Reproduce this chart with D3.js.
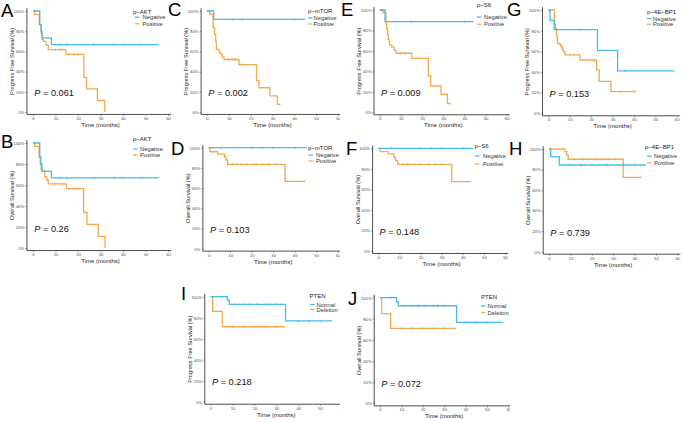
<!DOCTYPE html>
<html><head><meta charset="utf-8">
<script src="https://cdn.jsdelivr.net/npm/d3@7"></script>
<style>body{margin:0;background:#fff}svg{display:block}text{font-family:"Liberation Sans",Arial,sans-serif}</style>
</head><body><svg id="c" width="685" height="422"></svg>
<script>
// ---------------- DATA ----------------
const timeTicks = [0, 10, 20, 30, 40, 50, 60];
const survTicks = [0, 20, 40, 60, 80, 100];
const panelLetters = ["A", "B", "C", "D", "E", "F", "G", "H", "I", "J"];
const markerNames = ["p−AKT", "p−AKT", "p−mTOR", "p−mTOR", "p−S6", "p−S6", "p−4E−BP1", "p−4E−BP1", "PTEN", "PTEN"];
const groupLabelsIHC = ["Negative", "Positive"];
const groupLabelsPTEN = ["Normal", "Deletion"];
const pValues = ["0.061", "0.26", "0.002", "0.103", "0.009", "0.148", "0.153", "0.739", "0.218", "0.072"];
const yTitles = ["Progress Free Survival (%)", "Overall Survival (%)"];
const xTitle = "Time (months)";

// step curves: [time (months), survival (%)]
const negA = [[0,100],[3,86.7],[3.6,80],[4,73.3],[8.2,66.7],[56,66.7]];
const posA = [[0,100],[0.8,96.7],[2.8,86.5],[3.6,78],[4.1,72],[4.6,70],[5.8,66],[6.8,61.7],[14.6,57],[22.6,34.2],[23.8,22.8],[28.6,11.4],[31.9,0]];
const negA_cens = [12, 15, 27, 36, 40, 48];
const posA_cens = [10, 12, 13, 16, 18, 20];

const negB = [[0,100],[3,86.7],[3.5,80],[4,73.3],[8.2,66.7],[56,66.7]];
const posB = [[0,100],[0.8,96.8],[2.7,86.6],[3.2,80],[3.6,75],[4,73],[5.2,68],[6,65],[6.8,61],[14.8,56.5],[22.5,34],[24,22.5],[29,11],[32,0]];
const negB_cens = [12, 15, 27, 36, 40, 48];
const posB_cens = [10, 12, 13, 16, 18, 20];

const negC = [[0,100],[3.1,91.7],[45,91.7]];
const posC = [[0,100],[1.2,97],[2.8,83.5],[3.5,77],[4,70],[4.3,62],[5.5,59],[6.3,57],[6.9,54.5],[7.8,52],[14.6,47],[22.7,31],[23.8,24],[28.8,16],[32.2,7.6],[33.4,7.6]];
const negC_cens = [12, 16, 40];
const posC_cens = [10, 11.5, 13, 16, 33.4];

const negD = [[0,100],[45.6,100]];
const posD = [[0,100],[0.6,96],[4.2,93.7],[7.3,91],[8,88],[8.8,83.5],[35.5,66.7],[44.5,66.7]];
const negD_cens = [6, 20, 25, 30, 40];
const posD_cens = [11, 13, 15, 18, 22, 25, 28, 31, 44.5];

const negE = [[0,100],[2.5,88.6],[44.3,88.6]];
const posE = [[0,100],[1.4,97.7],[3,86],[3.3,81],[3.8,75.6],[4.1,71],[4.6,66],[5.7,64],[6.8,61],[7.7,57.7],[15.1,52.8],[23,35.5],[24.1,25.7],[29,17.6],[32,8.5],[33.2,8.5]];
const negE_cens = [15, 40];
const posE_cens = [10, 12, 14, 18, 33.2];

const negF = [[0,100],[45,100]];
const posF = [[0,100],[0.8,96.8],[4.7,94.5],[7.4,91],[8.2,88],[9.2,84.4],[34.8,67.5],[44,67.5]];
const negF_cens = [6, 20, 25, 30, 40];
const posF_cens = [12, 14, 17, 20, 24, 27, 30];

const negG = [[0,100],[0.8,90],[2.8,81],[23,61],[32.4,41],[59,41]];
const posG = [[0,100],[2.8,86],[3.4,82],[3.9,74],[4.3,68],[5.1,67],[5.9,64.5],[6.5,62],[7,59.7],[7.8,56.5],[14.8,51.6],[22.6,42],[23.8,31],[29.3,21],[40.5,21]];
const negG_cens = [15, 36];
const posG_cens = [10, 12, 34, 40.5];

const negH = [[0,100],[0.8,92.5],[4.8,84.4],[45.2,84.4]];
const posH = [[0,100],[7.5,97.4],[8.3,94],[9,90],[34.7,72.4],[43.3,72.4]];
const negH_cens = [10, 15, 20, 27, 35, 40];
const posH_cens = [12, 16, 19, 22, 25, 28, 31];

const negI = [[0,100],[7.6,96.8],[8.5,92.7],[34.2,77],[55.5,77]];
const posI = [[0,100],[0.9,86],[5.3,71.4],[34,71.4]];
const negI_cens = [5, 11, 15, 18, 21, 25, 27, 30, 40, 45, 50];
const posI_cens = [10, 15, 20, 25, 30];

const negJ = [[0,100],[7.8,96],[8.6,92.4],[35.8,76.7],[57.3,76.7]];
const posJ = [[0,100],[0.8,85],[5,71],[35.4,71]];
const negJ_cens = [5, 11, 15, 18, 21, 25, 27, 30, 40, 45, 50];
const posJ_cens = [10, 15, 20, 25, 30];

const seriesNeg = [negA, negB, negC, negD, negE, negF, negG, negH, negI, negJ];
const seriesPos = [posA, posB, posC, posD, posE, posF, posG, posH, posI, posJ];
const censNeg = [negA_cens, negB_cens, negC_cens, negD_cens, negE_cens, negF_cens, negG_cens, negH_cens, negI_cens, negJ_cens];
const censPos = [posA_cens, posB_cens, posC_cens, posD_cens, posE_cens, posF_cens, posG_cens, posH_cens, posI_cens, posJ_cens];

// ---------------- LAYOUT (pixels) ----------------
const layout = [
  {t0:33, t60:168, y100:11, y0:112, lx:1, ly:17, clip:[0,171], leg:{tx:133, kx:135, txx:142.5, b:[14,19.2,25.8]}},
  {t0:33, t60:168, y100:143, y0:248, lx:1, ly:147.5, clip:[0,171], leg:{tx:133, kx:133, txx:140, b:[141.2,151,157]}},
  {t0:207, t60:338, y100:11, y0:112, lx:168, ly:16.3, clip:[171,340], leg:{tx:308, kx:308, txx:313.5, b:[13.3,20,26]}},
  {t0:208.7, t60:337.7, y100:147.7, y0:248.7, lx:171, ly:155, clip:[171,340], leg:{tx:308, kx:308.5, txx:316, b:[149.5,157,163]}},
  {t0:379.7, t60:506.7, y100:10, y0:112.3, lx:341, ly:16.3, clip:[340,510], leg:{tx:477, kx:477, txx:484, b:[7.2,19,26.2]}},
  {t0:378.3, t60:505, y100:148.3, y0:251, lx:346, ly:155, clip:[340,510], leg:{tx:474.5, kx:475, txx:483, b:[148.2,158,166]}},
  {t0:548.3, t60:676.7, y100:10, y0:113.3, lx:507, ly:16.3, clip:[505,685], leg:{tx:647, kx:647, txx:653, b:[14,20.5,26.2]}},
  {t0:549, t60:677.3, y100:149, y0:251.7, lx:509, ly:155, clip:[505,685], leg:{tx:645, kx:647, txx:654, b:[149.2,158.2,164.9]}},
  {t0:210.7, t60:342, y100:296.7, y0:401.7, lx:181, ly:300, clip:[171,340], leg:{tx:309.5, kx:310, txx:316.5, b:[298,306.5,311.5]}},
  {t0:380, t60:508.3, y100:297.7, y0:403.3, lx:348, ly:305, clip:[340,510], leg:{tx:481, kx:481, txx:487.5, b:[299.2,307.9,314.5]}}
];

const BLUE = "#3DB8EA", ORANGE = "#F4A443";
const svg = d3.select("#c");
const defs = svg.append("defs");

function survAt(series, t) {
  let s = series[0][1];
  for (const p of series) { if (p[0] <= t) s = p[1]; }
  return s;
}

layout.forEach((L, i) => {
  defs.append("clipPath").attr("id", "clip" + i)
    .append("rect").attr("x", L.clip[0]).attr("y", 0).attr("width", L.clip[1] - L.clip[0]).attr("height", 422);
  const g = svg.append("g").attr("clip-path", `url(#clip${i})`);
  const x = d3.scaleLinear().domain([0, 60]).range([L.t0, L.t60]);
  const y = d3.scaleLinear().domain([0, 100]).range([L.y0, L.y100]);
  const axisX = x(-2.7), axisY = y(-2.4), axisTop = y(102.7), axisRight = x(61.5);

  // axes
  const ya = g.append("g").attr("transform", `translate(${axisX},0)`)
    .call(d3.axisLeft(y).tickValues(survTicks).tickFormat(d => d + "%").tickSize(1.6).tickPadding(1));
  ya.select(".domain").remove();
  ya.selectAll("line").attr("stroke", "#333").attr("stroke-width", 0.5);
  ya.selectAll("text").attr("font-size", 4.2).attr("fill", "#4d4d4d").attr("font-family", '"Liberation Sans",Arial,sans-serif');
  const xa = g.append("g").attr("transform", `translate(0,${axisY})`)
    .call(d3.axisBottom(x).tickValues(timeTicks).tickSize(1.6).tickPadding(1));
  xa.select(".domain").remove();
  xa.selectAll("line").attr("stroke", "#333").attr("stroke-width", 0.5);
  xa.selectAll("text").attr("font-size", 4.2).attr("fill", "#4d4d4d").attr("font-family", '"Liberation Sans",Arial,sans-serif');
  g.append("line").attr("x1", axisX).attr("x2", axisX).attr("y1", axisTop).attr("y2", axisY).attr("stroke", "#222").attr("stroke-width", 0.8);
  g.append("line").attr("x1", axisX).attr("x2", axisRight).attr("y1", axisY).attr("y2", axisY).attr("stroke", "#222").attr("stroke-width", 0.8);

  // titles
  g.append("text").attr("x", x(30)).attr("y", axisY + 12.6).attr("text-anchor", "middle")
    .attr("font-size", 6).attr("fill", "#222").text(xTitle);
  const cy = (y(0) + y(100)) / 2, tx = axisX - 15;
  g.append("text").attr("transform", `translate(${tx},${cy}) rotate(-90)`).attr("text-anchor", "middle")
    .attr("dy", "0.35em").attr("font-size", 5.6).attr("fill", "#222").text(yTitles[i % 2]);

  // curves
  const line = d3.line().x(d => x(d[0])).y(d => y(d[1])).curve(d3.curveStepAfter);
  [[seriesPos[i], censPos[i], ORANGE], [seriesNeg[i], censNeg[i], BLUE]].forEach(([s, c, col]) => {
    g.append("path").attr("d", line(s)).attr("fill", "none").attr("stroke", col).attr("stroke-width", 1.3).attr("stroke-opacity", 0.95);
    g.selectAll(null).data(c).enter().append("line")
      .attr("x1", t => x(t)).attr("x2", t => x(t))
      .attr("y1", t => y(survAt(s, t)) - 1.3).attr("y2", t => y(survAt(s, t)) + 1.3)
      .attr("stroke", col).attr("stroke-width", 0.7);
  });

  // p-value
  const pt = g.append("text").attr("x", x(0.6)).attr("y", y(15.5)).attr("font-size", 9.2).attr("fill", "#111");
  pt.append("tspan").attr("font-style", "italic").text("P");
  pt.append("tspan").text(" = " + pValues[i]);

  // legend
  const labels = i >= 8 ? groupLabelsPTEN : groupLabelsIHC;
  g.append("text").attr("x", L.leg.tx).attr("y", L.leg.b[0]).attr("font-size", 6).attr("fill", "#222").text(markerNames[i]);
  [BLUE, ORANGE].forEach((col, k) => {
    const b = L.leg.b[k + 1];
    g.append("line").attr("x1", L.leg.kx).attr("x2", L.leg.kx + 4.5).attr("y1", b - 2).attr("y2", b - 2)
      .attr("stroke", col).attr("stroke-width", 1.2);
    g.append("text").attr("x", L.leg.txx).attr("y", b).attr("font-size", 5.8).attr("fill", "#333").text(labels[k]);
  });

  // panel letter
  svg.append("text").attr("x", L.lx).attr("y", L.ly).attr("font-size", 18.5).attr("fill", "#000").text(panelLetters[i]);
});
</script></body></html>
